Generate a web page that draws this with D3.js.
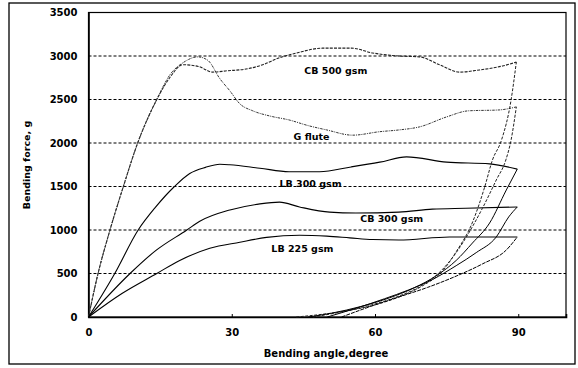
<!DOCTYPE html>
<html>
<head>
<meta charset="utf-8">
<script src="https://cdn.jsdelivr.net/npm/d3@7"></script>
<style>
  body { margin: 0; background: #fff; }
  text { font-family: "DejaVu Sans", Verdana, sans-serif; font-weight: bold; fill: #000; }
</style>
</head>
<body>
<div class="chart"></div>
<script>
// ticks
var xTicks = [0, 30, 60, 90];
var yTicks = [0, 500, 1000, 1500, 2000, 2500, 3000, 3500];

// loading curves (angle, force)
var cb500Angle = [0, 2, 4.5, 7.3, 10.3, 14.3, 17, 19.8, 23, 26, 29, 33, 36.5, 40, 43.6, 49, 55, 59.5, 65, 69.3, 73.5, 77.7, 81.9, 86.7, 89.6];
var cb500Force = [0, 500, 1000, 1500, 2000, 2500, 2750, 2900, 2880, 2815, 2830, 2850, 2900, 2980, 3035, 3090, 3090, 3035, 3000, 2990, 2900, 2815, 2840, 2885, 2930];
var gfAngle = [0, 2, 4.5, 7.3, 10.3, 14.3, 17, 20, 22.9, 25, 27.5, 29.6, 31.7, 34.4, 38, 42, 46, 49.9, 55.3, 61, 65, 69.3, 75, 79.6, 86, 89.6];
var gfForce = [0, 500, 1000, 1500, 2000, 2500, 2780, 2930, 2990, 2950, 2740, 2600, 2450, 2370, 2310, 2265, 2200, 2150, 2090, 2130, 2150, 2185, 2300, 2370, 2380, 2415];
var lb300Angle = [0, 5.5, 10.4, 14, 18, 21.2, 24.5, 27.5, 29.6, 35.9, 42, 48.4, 55, 61, 66.6, 75, 84, 89.8];
var lb300Force = [0, 500, 1000, 1260, 1500, 1650, 1720, 1755, 1750, 1710, 1670, 1670, 1725, 1780, 1840, 1780, 1760, 1700];
var cb300Angle = [0, 8.7, 14, 20.6, 23.3, 29.6, 35.9, 40, 44.2, 50.5, 56, 65, 72, 79, 89.8];
var cb300Force = [0, 500, 760, 1000, 1100, 1230, 1300, 1320, 1265, 1205, 1195, 1205, 1240, 1250, 1265];
var lb225Angle = [0, 7, 14.3, 19.1, 25.4, 31.7, 37.3, 44.2, 49.9, 54.7, 59.5, 65, 75.6, 89.8];
var lb225Force = [0, 270, 500, 650, 790, 860, 915, 940, 930, 910, 890, 885, 920, 920];

// unloading curves (angle, force)
var cb500BackAngle = [89.6, 88.5, 86.5, 84.6, 83, 80.5, 77, 74, 70, 65, 60, 54, 48, 43.5];
var cb500BackForce = [2930, 2495, 2035, 1805, 1500, 1100, 750, 520, 360, 230, 140, 70, 25, 0];
var gfBackAngle = [89.6, 88.5, 87.4, 85.4, 82.5, 80, 77, 74, 70, 65, 60, 54, 47];
var gfBackForce = [2415, 2035, 1805, 1575, 1250, 1000, 740, 540, 370, 240, 150, 70, 0];
var lb300BackAngle = [89.8, 87.5, 84, 80.4, 77, 73, 68, 63, 57, 51, 46];
var lb300BackForce = [1700, 1460, 1080, 850, 650, 480, 330, 220, 120, 45, 0];
var cb300BackAngle = [89.8, 88, 85.4, 81.2, 77, 72, 67, 62, 56, 50];
var cb300BackForce = [1265, 1150, 920, 740, 590, 430, 310, 210, 100, 0];
var lb225BackAngle = [89.8, 87.5, 82.5, 77, 71, 65, 59, 53];
var lb225BackForce = [920, 770, 610, 470, 340, 230, 120, 0];

// curve labels
var labelNames = ['CB 500 gsm', 'G flute', 'LB 300 gsm', 'CB 300 gsm', 'LB 225 gsm'];
var labelAngle = [51.8, 46.7, 46.5, 63.5, 44.8];
var labelForce = [2790, 2040, 1490, 1090, 750];

var svgWidth = 578;
var svgHeight = 368;
var margin = {top: 12.5, right: 12, bottom: 51, left: 88.5};
var width = svgWidth - margin.left - margin.right;
var height = svgHeight - margin.top - margin.bottom;

var svg = d3.select('.chart')
    .append('svg')
    .attr('width', svgWidth)
    .attr('height', svgHeight);

// outer frame
svg.append('rect')
    .attr('x', 9).attr('y', 3)
    .attr('width', 566).attr('height', 361)
    .attr('fill', 'none')
    .attr('stroke', '#000')
    .attr('stroke-width', 1.3);

var chart = svg.append('g')
    .attr('transform', 'translate(' + margin.left + ',' + margin.top + ')');

var x = d3.scaleLinear().domain([0, 100]).range([0, width]);
var y = d3.scaleLinear().domain([0, 3500]).range([height, 0]);

// grid
chart.selectAll('.grid')
    .data(yTicks.filter(function(d) { return d > 0 && d < 3500; }))
    .enter()
    .append('line')
    .attr('x1', 0).attr('x2', width)
    .attr('y1', function(d) { return y(d); })
    .attr('y2', function(d) { return y(d); })
    .attr('stroke', '#000')
    .attr('stroke-width', 1)
    .attr('stroke-dasharray', '3,2');

// plot box
chart.append('rect')
    .attr('width', width).attr('height', height)
    .attr('fill', 'none')
    .attr('stroke', '#000')
    .attr('stroke-width', 1.2);

// axes
var bottomAxis = d3.axisBottom(x).tickValues(xTicks).tickSize(-3).tickPadding(12);
var leftAxis = d3.axisLeft(y).tickValues(yTicks).tickSize(0).tickPadding(11).tickFormat(d3.format('d'));

var gx = chart.append('g').attr('transform', 'translate(0,' + height + ')').call(bottomAxis);
var gy = chart.append('g').call(leftAxis);
gx.select('.domain').attr('stroke-width', 1.6);
gy.select('.domain').attr('stroke-width', 1.6);
gx.selectAll('text').style('font-size', '10px').style('font-family', '"DejaVu Sans", sans-serif').style('font-weight', 'bold');
gy.selectAll('text').style('font-size', '10px').style('font-family', '"DejaVu Sans", sans-serif').style('font-weight', 'bold');

var line = d3.line()
    .x(function(d) { return x(d[0]); })
    .y(function(d) { return y(d[1]); })
    .curve(d3.curveMonotoneX);

function draw(angles, forces, dash, col, w) {
    // monotoneX wants increasing angles
    var pts = d3.zip(angles, forces).sort(function(a, b) { return a[0] - b[0]; });
    chart.append('path')
        .datum(pts)
        .attr('d', line)
        .attr('fill', 'none')
        .attr('stroke', col)
        .attr('stroke-width', w)
        .attr('stroke-dasharray', dash);
}

draw(cb500Angle, cb500Force, '3,1.2', '#222', 1.1);
draw(gfAngle, gfForce, '2.5,1,1,1', '#333', 1);
draw(lb300Angle, lb300Force, null, '#000', 1.1);
draw(cb300Angle, cb300Force, null, '#000', 1.1);
draw(lb225Angle, lb225Force, null, '#000', 1.1);

draw(cb500BackAngle, cb500BackForce, '3,1.5', '#222', 1);
draw(gfBackAngle, gfBackForce, '3,1.5', '#222', 1);
draw(lb300BackAngle, lb300BackForce, null, '#000', 1);
draw(cb300BackAngle, cb300BackForce, null, '#000', 1);
draw(lb225BackAngle, lb225BackForce, '4,1', '#000', 1);

// curve labels
chart.selectAll('.lab')
    .data(labelNames)
    .enter()
    .append('text')
    .attr('x', function(d, i) { return x(labelAngle[i]); })
    .attr('y', function(d, i) { return y(labelForce[i]); })
    .attr('text-anchor', 'middle')
    .attr('font-size', '9.5px')
    .text(function(d) { return d; });

// axis titles
chart.append('text')
    .attr('transform', 'rotate(-90)')
    .attr('x', 0 - (316 - margin.top - 151))
    .attr('y', 27 - margin.left + 3)
    .attr('text-anchor', 'middle')
    .attr('font-size', '9.5px')
    .text('Bending force, g');

chart.append('text')
    .attr('x', 326 - margin.left)
    .attr('y', 357 - margin.top)
    .attr('text-anchor', 'middle')
    .attr('font-size', '10px')
    .text('Bending angle,degree');
</script>
</body>
</html>
